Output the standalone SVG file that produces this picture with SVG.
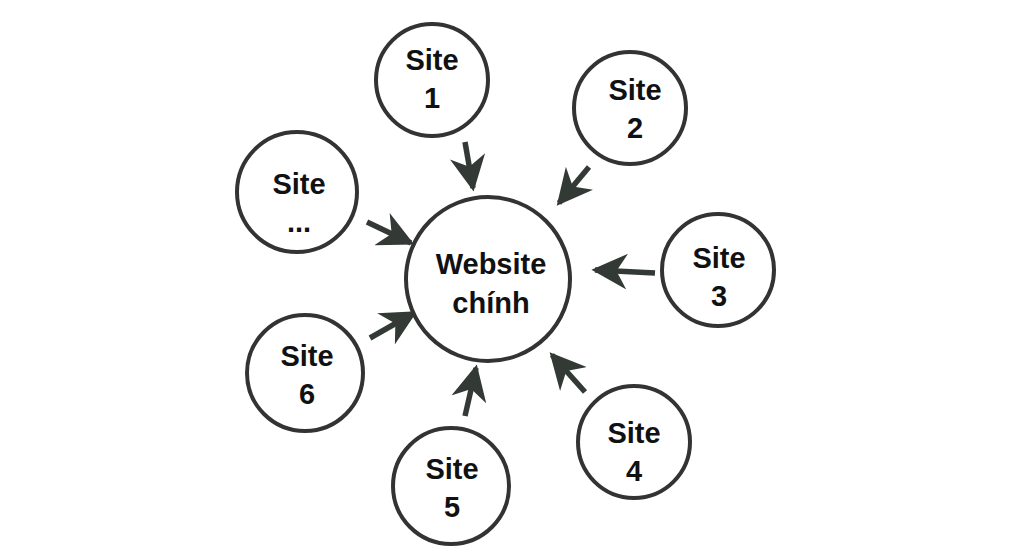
<svg xmlns="http://www.w3.org/2000/svg" width="1024" height="555" viewBox="0 0 1024 555">
<style>
.n{fill:#fff;stroke:#333;stroke-width:4}
.t{font-family:"Liberation Sans",Arial,sans-serif;font-weight:bold;font-size:29px;fill:#111;text-anchor:middle}
.c line{stroke:#333a36;stroke-width:5.5}
</style>
<defs>
<marker id="a" viewBox="0 0 10 10" refX="9" refY="5" markerWidth="6.5" markerHeight="6.5" orient="auto">
<path d="M0,0 L10,5 L0,10 L3,5 z" fill="#333a36"/>
</marker>
</defs>
<rect width="1024" height="555" fill="#fff"/>
<g class="c">
<line x1="465" y1="142" x2="473" y2="188" marker-end="url(#a)"/>
<line x1="589" y1="167" x2="559" y2="203" marker-end="url(#a)"/>
<line x1="655" y1="273" x2="595" y2="270" marker-end="url(#a)"/>
<line x1="585" y1="392" x2="552" y2="355" marker-end="url(#a)"/>
<line x1="465" y1="416" x2="476" y2="368" marker-end="url(#a)"/>
<line x1="370" y1="338" x2="414" y2="313" marker-end="url(#a)"/>
<line x1="367" y1="222" x2="411" y2="243" marker-end="url(#a)"/>
</g>
<g id="main"><circle class="n" cx="488" cy="279" r="82"/><text class="t" x="491" y="274">Website</text><text class="t" x="491" y="313">chính</text></g>
<g id="s1"><circle class="n" cx="432" cy="80" r="56"/><text class="t" x="432" y="70">Site</text><text class="t" x="432" y="108">1</text></g>
<g id="s2"><circle class="n" cx="630" cy="108" r="56"/><text class="t" x="635" y="100">Site</text><text class="t" x="635" y="138">2</text></g>
<g id="s3"><circle class="n" cx="718" cy="270" r="56"/><text class="t" x="719" y="268">Site</text><text class="t" x="719" y="306">3</text></g>
<g id="s4"><circle class="n" cx="634" cy="442" r="56"/><text class="t" x="634" y="443">Site</text><text class="t" x="634" y="481">4</text></g>
<g id="s5"><circle class="n" cx="451" cy="486" r="58"/><text class="t" x="452" y="479">Site</text><text class="t" x="452" y="517">5</text></g>
<g id="s6"><circle class="n" cx="305" cy="373" r="58"/><text class="t" x="307" y="366">Site</text><text class="t" x="307" y="404">6</text></g>
<g id="s7"><circle class="n" cx="297" cy="192" r="60"/><text class="t" x="299" y="194">Site</text><text class="t" x="299" y="232">...</text></g>
</svg>
